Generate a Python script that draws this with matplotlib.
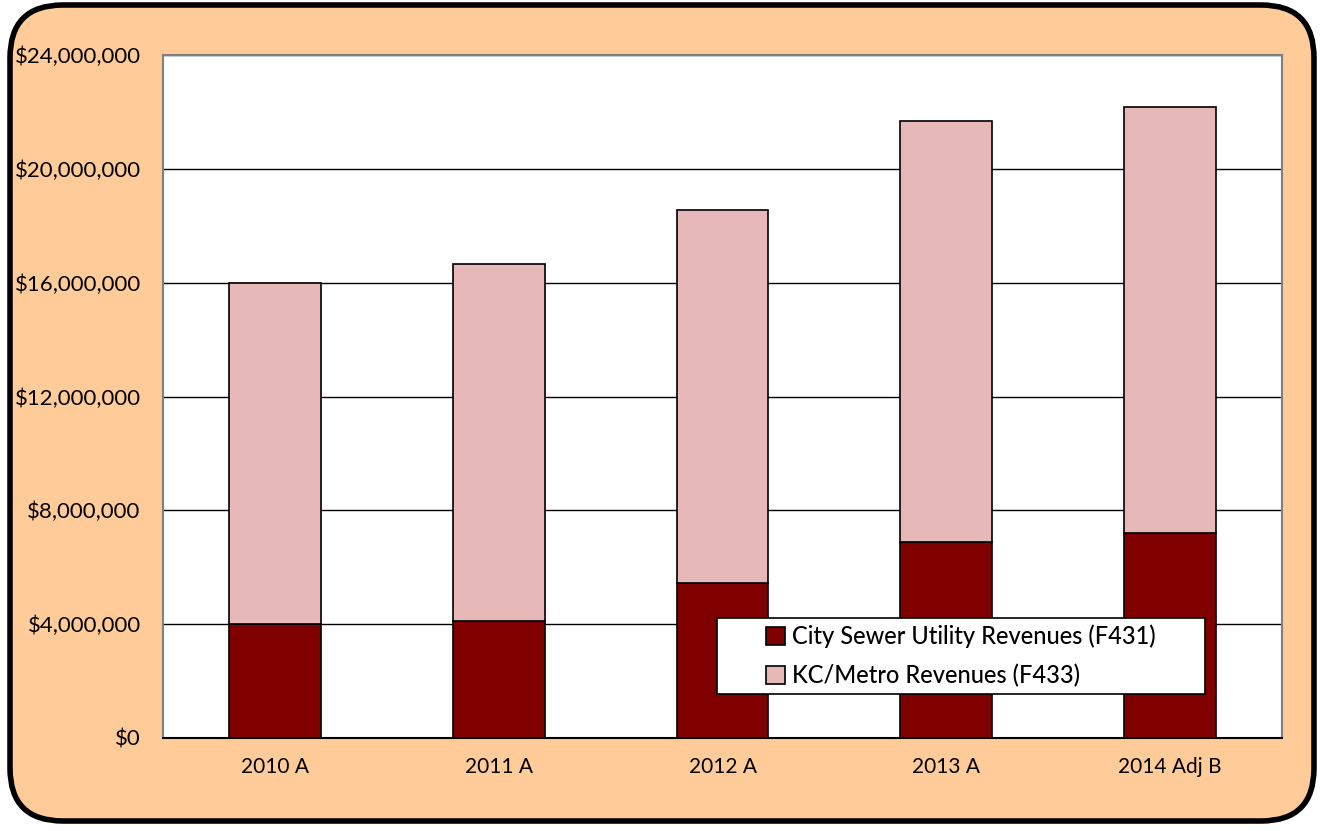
import matplotlib.pyplot as plt
import numpy as np
from matplotlib.patches import FancyBboxPatch, Rectangle
from matplotlib.ticker import FuncFormatter

years = ['2010 A', '2011 A', '2012 A', '2013 A', '2014 Adj B']
city_sewer = [4000000, 4110000, 5450000, 6890000, 7200000]
kc_metro = [12000000, 12540000, 13100000, 14790000, 14970000]

plt.rcParams['font.family'] = ['Lato', 'DejaVu Sans']

fig = plt.figure(figsize=(13.2, 8.31), dpi=100)
fig.patch.set_facecolor('white')

# rounded orange frame behind everything
frame = FancyBboxPatch((10 / 1320, 10 / 831), 1304 / 1320, 816 / 831,
                       boxstyle='round,pad=0,rounding_size=0.04',
                       transform=fig.transFigure, facecolor='#FFCC99',
                       edgecolor='black', linewidth=4, zorder=-1,
                       mutation_aspect=1320 / 831)
fig.patches.append(frame)

ax = fig.add_axes([163 / 1320, 93 / 831, 1119 / 1320, 683 / 831])
ax.set_facecolor('white')

x = np.arange(len(years))
w = 0.41
ax.bar(x, city_sewer, w, color='#800000', edgecolor='black', linewidth=1.2,
       label='City Sewer Utility Revenues (F431)', zorder=3)
ax.bar(x, kc_metro, w, bottom=city_sewer, color='#E6B8B7', edgecolor='black',
       linewidth=1.2, label='KC/Metro Revenues (F433)', zorder=3)

ax.set_xlim(-0.5, len(years) - 0.5)
ax.set_ylim(0, 24000000)
ax.set_yticks(np.arange(0, 24000001, 4000000))
ax.yaxis.set_major_formatter(FuncFormatter(lambda v, p: '${:,.0f}'.format(v)))
ax.set_xticks(x)
ax.set_xticklabels(years)
ax.grid(axis='y', color='black', linewidth=1, zorder=1)
ax.tick_params(axis='both', length=0, colors='black')
ax.tick_params(axis='x', pad=14, labelsize=15)
ax.tick_params(axis='y', pad=16, labelsize=16)
for s in ax.spines.values():
    s.set_color('#808080')
    s.set_linewidth(1.5)
ax.spines['bottom'].set_color('black')

# legend box drawn separately so the entries sit centred inside it
box = Rectangle((717 / 1320, 137 / 831), 488 / 1320, 76 / 831,
                transform=fig.transFigure, facecolor='white',
                edgecolor='black', linewidth=1.2, zorder=4)
fig.patches.append(box)
leg = fig.legend(*ax.get_legend_handles_labels(), loc='center',
                 bbox_to_anchor=(961 / 1320, 175 / 831), fontsize=17,
                 frameon=False, handlelength=0.8, handleheight=0.8,
                 handletextpad=0.3, borderpad=0, labelspacing=0.65)
leg.set_zorder(5)
for t in leg.get_texts():
    t.set_fontweight('medium')

fig.savefig('out.png', dpi=100)
